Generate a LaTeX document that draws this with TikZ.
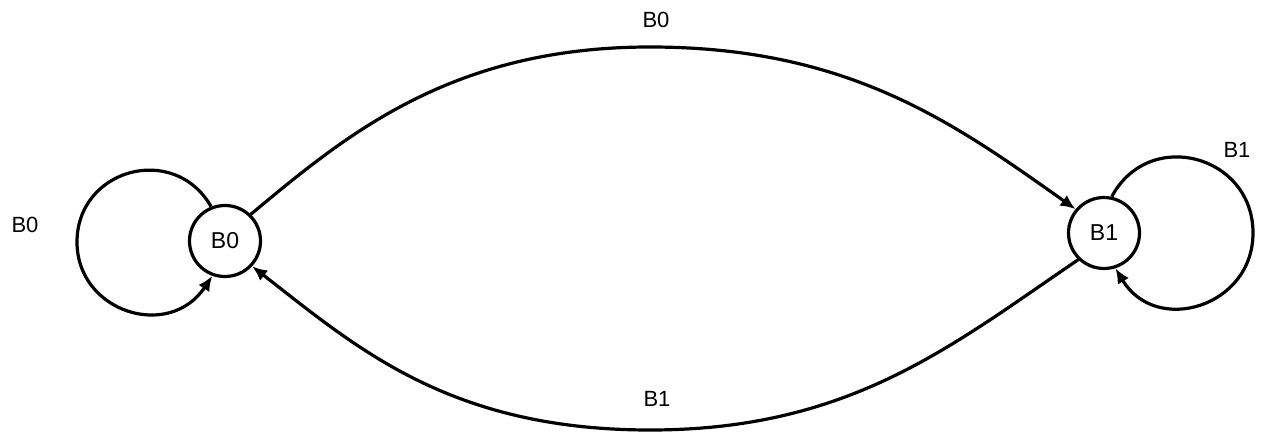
\documentclass[tikz,border=0pt]{standalone}
\usepackage{fontspec}
\setmainfont{Liberation Sans}
\usetikzlibrary{arrows.meta}
\begin{document}
\begin{tikzpicture}[x=1pt,y=-1pt,
  state/.style={circle,draw,line width=3.2pt,minimum size=71pt,inner sep=0pt,font=\fontsize{23}{25}\selectfont},
  lbl/.style={font=\fontsize{22}{24}\selectfont,inner sep=0pt},
  edge/.style={line width=3.2pt,-{Latex[length=15pt,width=13pt]}}]
\useasboundingbox[fill=white] (0,0) rectangle (1263,438);
\node[state] (B0) at (225,241) {\raisebox{-3pt}{B0}};
\node[state] (B1) at (1104,233) {B1};
% labels
\node[lbl] (lt) at (656,20) {B0};
\node[lbl] (ll) at (25,225) {B0};
\node[lbl] (lr) at (1237,150) {B1};
\node[lbl] (lb) at (657,399) {B1};
% self loops
\draw[edge] (B0.112) .. controls (174,142) and (77,169) .. (77,242)
  .. controls (77,312) and (169,341) .. (B0.-110);
\draw[edge] (B1.78) .. controls (1149,127) and (1253,155) .. (1253,233)
  .. controls (1253,307) and (1156,336) .. (B1.-72);
% arcs
\draw[edge] (B0.46) .. controls (345,136) and (450,47) .. (650,47)
  .. controls (850,47) and (955,124) .. (B1.140);
\draw[edge] (B1.-134) .. controls (951,346) and (850,430) .. (650,430)
  .. controls (450,430) and (357,348) .. (B0.-43);
\end{tikzpicture}
\end{document}
